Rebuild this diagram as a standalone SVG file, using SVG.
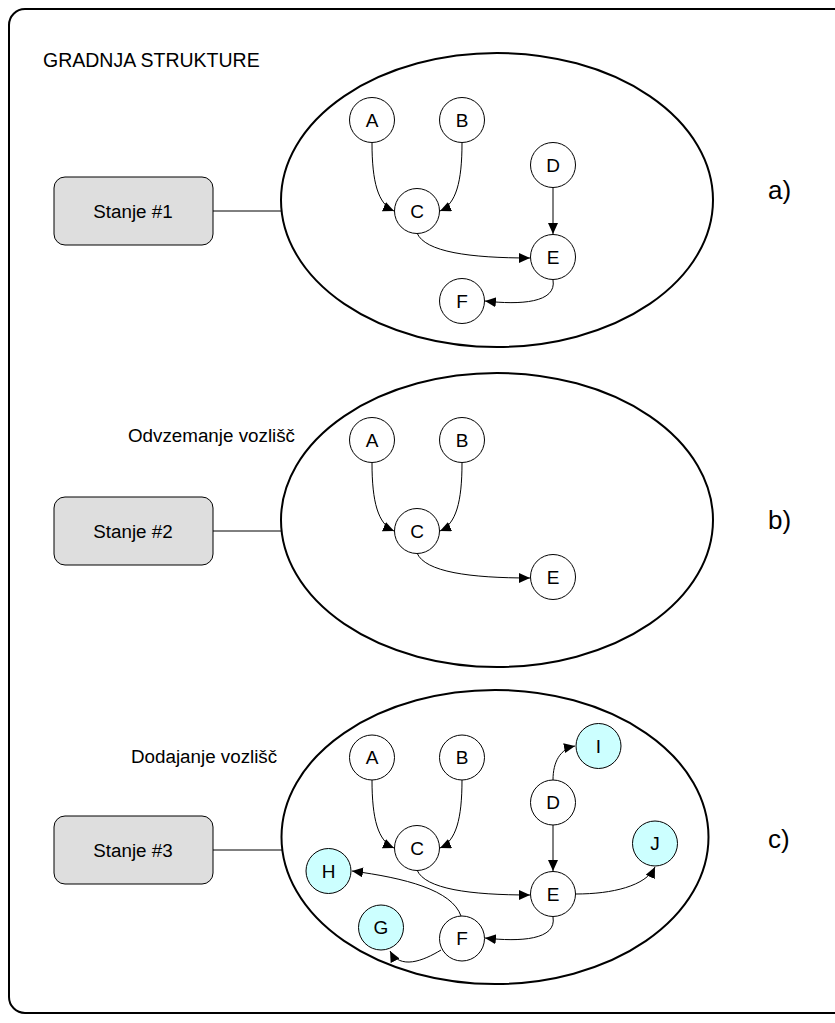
<svg xmlns="http://www.w3.org/2000/svg" width="835" height="1023" viewBox="0 0 835 1023">
  <defs>
    <marker id="arrow" markerUnits="userSpaceOnUse" markerWidth="13" markerHeight="11" refX="11" refY="5" orient="auto">
      <path d="M0,0 L11,5 L0,10 Z" fill="#000"/>
    </marker>
    <style>
      text { font-family: "Liberation Sans", Arial, sans-serif; fill: #000; }
      .frame { fill: #fff; stroke: #000; stroke-width: 2; }
      .state { fill: none; stroke: #000; stroke-width: 2; }
      .box { fill: #dedede; stroke: #000; stroke-width: 1; }
      .link { stroke: #000; stroke-width: 1; fill: none; }
      .node { fill: #fff; stroke: #000; stroke-width: 1; }
      .new { fill: #ccffff; stroke: #000; stroke-width: 1; }
      .edge { stroke: #000; stroke-width: 1; fill: none; marker-end: url(#arrow); }
      .lbl { font-size: 19px; text-anchor: middle; }
      .cap { font-size: 18.8px; }
      .title { font-size: 19.5px; }
      .tag { font-size: 26px; }
    </style>
  </defs>

  <!-- outer frame -->
  <rect class="frame" x="9" y="9" width="850" height="1004" rx="16"/>
  <text class="title" x="43" y="67">GRADNJA STRUKTURE</text>
  <text class="cap" x="128" y="442">Odvzemanje vozlišč</text>
  <text class="cap" x="131" y="763">Dodajanje vozlišč</text>

  <!-- state boxes and their links -->
  <g id="stanje1">
    <rect class="box" x="54" y="177" width="159" height="68" rx="11"/>
    <text class="cap" x="133" y="217.5" text-anchor="middle">Stanje #1</text>
    <line class="link" x1="213" y1="211" x2="281" y2="211"/>
  </g>
  <g id="stanje2">
    <rect class="box" x="54" y="497" width="159" height="68" rx="11"/>
    <text class="cap" x="133" y="537.5" text-anchor="middle">Stanje #2</text>
    <line class="link" x1="213" y1="531" x2="281" y2="531"/>
  </g>
  <g id="stanje3">
    <rect class="box" x="54" y="816" width="159" height="68" rx="11"/>
    <text class="cap" x="133" y="856.5" text-anchor="middle">Stanje #3</text>
    <line class="link" x1="213" y1="850" x2="282" y2="850"/>
  </g>

  <!-- state ellipses -->
  <ellipse class="state" cx="497" cy="200" rx="216" ry="147"/>
  <ellipse class="state" cx="497" cy="520" rx="216" ry="147"/>
  <ellipse class="state" cx="495" cy="837" rx="213.5" ry="147"/>

  <text class="tag" x="768" y="199">a)</text>
  <text class="tag" x="768" y="529">b)</text>
  <text class="tag" x="768" y="848">c)</text>

  <!-- connectors -->
  <g id="connectors">
    <!-- a) -->
    <path class="edge" d="M372,143 C372,182 378,204 394,211"/>
    <path class="edge" d="M462,143 C462,182 456,204 440,211"/>
    <path class="edge" d="M553,188 L553,234"/>
    <path class="edge" d="M417,233 C425,252 470,258 530,258"/>
    <path class="edge" d="M553,280 C557,303 520,305 485,301"/>
    <!-- b) -->
    <path class="edge" d="M372,463 C372,502 378,524 394,531"/>
    <path class="edge" d="M462,463 C462,502 456,524 440,531"/>
    <path class="edge" d="M417,553 C425,572 470,578 530,578"/>
    <!-- c) -->
    <path class="edge" d="M372,780 C372,819 378,841 394,848"/>
    <path class="edge" d="M462,780 C462,819 456,841 440,848"/>
    <path class="edge" d="M553,825 L553,871"/>
    <path class="edge" d="M417,870 C425,889 470,895 530,895"/>
    <path class="edge" d="M553,917 C557,940 520,942 485,938"/>
    <path class="edge" d="M553,780 C553,762 560,749 575,746"/>
    <path class="edge" d="M576,894 C612,894 646,886 655,867"/>
    <path class="edge" d="M461,916 C452,890 405,878 352,871"/>
    <path class="edge" d="M441,950 C423,961 400,970 390,951"/>
  </g>

  <!-- a) nodes -->
  <g id="a-A"><circle class="node" cx="372" cy="120" r="22.5"/><text class="lbl" x="372" y="126.5">A</text></g>
  <g id="a-B"><circle class="node" cx="462" cy="120" r="22.5"/><text class="lbl" x="462" y="126.5">B</text></g>
  <g id="a-C"><circle class="node" cx="417" cy="211" r="22.5"/><text class="lbl" x="417" y="217.5">C</text></g>
  <g id="a-D"><circle class="node" cx="553" cy="165" r="22.5"/><text class="lbl" x="553" y="171.5">D</text></g>
  <g id="a-E"><circle class="node" cx="553" cy="257" r="22.5"/><text class="lbl" x="553" y="263.5">E</text></g>
  <g id="a-F"><circle class="node" cx="462" cy="301" r="22.5"/><text class="lbl" x="462" y="307.5">F</text></g>

  <!-- b) nodes -->
  <g id="b-A"><circle class="node" cx="372" cy="440" r="22.5"/><text class="lbl" x="372" y="446.5">A</text></g>
  <g id="b-B"><circle class="node" cx="462" cy="440" r="22.5"/><text class="lbl" x="462" y="446.5">B</text></g>
  <g id="b-C"><circle class="node" cx="417" cy="531" r="22.5"/><text class="lbl" x="417" y="537.5">C</text></g>
  <g id="b-E"><circle class="node" cx="553" cy="577" r="22.5"/><text class="lbl" x="553" y="583.5">E</text></g>

  <!-- c) nodes -->
  <g id="c-A"><circle class="node" cx="372" cy="757.5" r="22.5"/><text class="lbl" x="372" y="764">A</text></g>
  <g id="c-B"><circle class="node" cx="462" cy="757.5" r="22.5"/><text class="lbl" x="462" y="764">B</text></g>
  <g id="c-C"><circle class="node" cx="417" cy="848" r="22.5"/><text class="lbl" x="417" y="854.5">C</text></g>
  <g id="c-D"><circle class="node" cx="553" cy="802.5" r="22.5"/><text class="lbl" x="553" y="809">D</text></g>
  <g id="c-E"><circle class="node" cx="553" cy="894" r="22.5"/><text class="lbl" x="553" y="900.5">E</text></g>
  <g id="c-F"><circle class="node" cx="462" cy="938.5" r="22.5"/><text class="lbl" x="462" y="945">F</text></g>
  <g id="c-G"><circle class="new" cx="381" cy="927.5" r="22.5"/><text class="lbl" x="381" y="934">G</text></g>
  <g id="c-H"><circle class="new" cx="328.5" cy="871" r="22.5"/><text class="lbl" x="328.5" y="877.5">H</text></g>
  <g id="c-I"><circle class="new" cx="598.5" cy="746" r="22.5"/><text class="lbl" x="598.5" y="752.5">I</text></g>
  <g id="c-J"><circle class="new" cx="655" cy="843.5" r="22.5"/><text class="lbl" x="655" y="850">J</text></g>
</svg>
